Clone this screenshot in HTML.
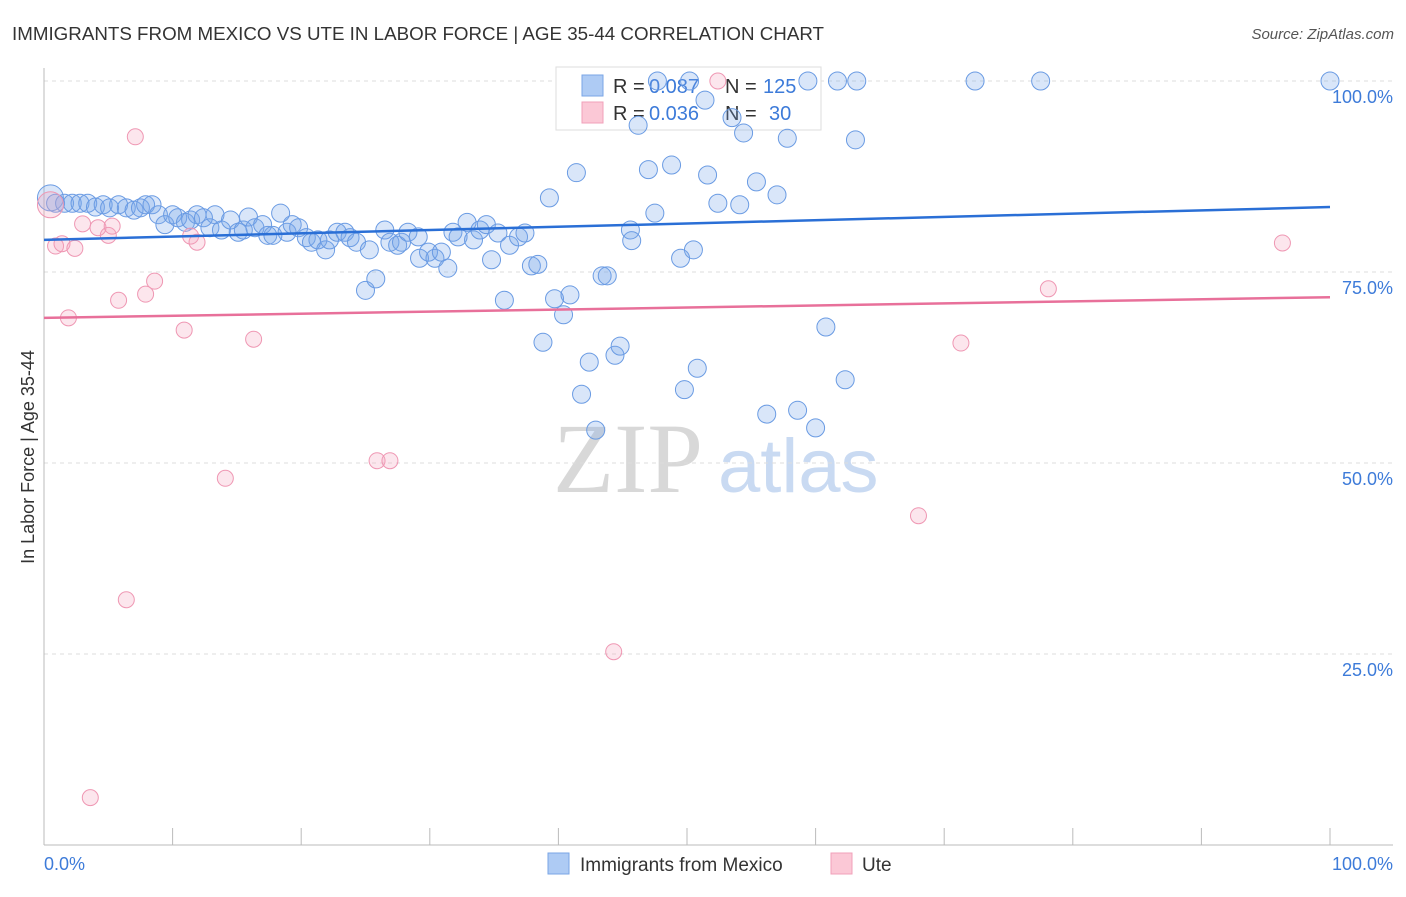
<!DOCTYPE html>
<html><head><meta charset="utf-8"><style>
body{margin:0;background:#fff;font-family:"Liberation Sans",sans-serif}
</style></head><body>
<svg id="chart" width="1406" height="892" xmlns="http://www.w3.org/2000/svg" font-family="Liberation Sans, sans-serif">
<text x="12" y="40" font-size="18" fill="#333" textLength="812" lengthAdjust="spacingAndGlyphs">IMMIGRANTS FROM MEXICO VS UTE IN LABOR FORCE | AGE 35-44 CORRELATION CHART</text>
<text x="1394" y="39" font-size="15" fill="#555" font-style="italic" text-anchor="end">Source: ZipAtlas.com</text>
<g>
<text x="553" y="492" font-size="100" style="font-family:'Liberation Serif',serif" fill="#d8d8d8">ZIP</text>
<text x="718" y="492" font-size="76" fill="#c9daf2">atlas</text>
</g>
<g id="grid"></g>
<line x1="44" y1="68" x2="44" y2="845" stroke="#bbb"/>
<line x1="44" y1="845" x2="1393" y2="845" stroke="#bbb"/>
<g id="xticks"></g>
<text x="44" y="870" font-size="18" fill="#3d7bd9">0.0%</text>
<text x="1393" y="870" font-size="18" fill="#3d7bd9" text-anchor="end">100.0%</text>
<text transform="translate(34,457) rotate(-90)" font-size="18" fill="#333" text-anchor="middle">In Labor Force | Age 35-44</text>
<g>
<rect x="556" y="67" width="265" height="63" fill="#fff" stroke="#ddd"/>
<rect x="582" y="75" width="21" height="21" fill="#aecbf4" stroke="#7aa6e6"/>
<text x="613" y="93" font-size="20" fill="#333">R =</text>
<text x="649" y="93" font-size="20" fill="#3d7bd9">0.087</text>
<text x="725" y="93" font-size="20" fill="#333">N =</text>
<text x="763" y="93" font-size="20" fill="#3d7bd9">125</text>
<rect x="582" y="102" width="21" height="21" fill="#fbc8d6" stroke="#f0a0ba"/>
<text x="613" y="120" font-size="20" fill="#333">R =</text>
<text x="649" y="120" font-size="20" fill="#3d7bd9">0.036</text>
<text x="725" y="120" font-size="20" fill="#333">N =</text>
<text x="769" y="120" font-size="20" fill="#3d7bd9">30</text>
</g>
<g id="pts"></g>
<g id="trends"></g>
<g>
<rect x="548" y="853" width="21" height="21" fill="#aecbf4" stroke="#7aa6e6"/>
<text x="580" y="871" font-size="19" fill="#333">Immigrants from Mexico</text>
<rect x="831" y="853" width="21" height="21" fill="#fbc8d6" stroke="#f0a0ba"/>
<text x="862" y="871" font-size="19" fill="#333">Ute</text>
</g>
</svg>
<script>
const yTicks=[100,75,50,25];
const yTickLabels=["100.0%","75.0%","50.0%","25.0%"];
const xTickVals=[0,10,20,30,40,50,60,70,80,90,100];
const blueX=[0.5,0.9,1.6,2.2,2.8,3.4,4.0,4.6,5.1,5.8,6.4,7.0,7.5,7.9,8.4,8.9,9.4,10.0,10.4,11.0,11.4,11.9,12.4,12.9,13.3,13.8,14.5,15.1,15.5,15.9,16.4,17.0,17.4,17.8,18.4,18.9,19.3,19.8,20.4,20.8,21.3,21.9,22.2,22.8,23.4,23.8,24.3,25.0,25.3,25.8,26.5,26.9,27.5,27.8,28.3,29.1,29.2,29.9,30.4,30.9,31.4,31.8,32.2,32.9,33.4,33.9,34.4,34.8,35.3,35.8,36.2,36.9,37.4,37.9,38.4,38.8,39.3,39.7,40.4,40.9,41.4,41.8,42.4,42.9,43.4,43.8,44.4,44.8,45.6,45.7,46.2,47.0,47.5,47.7,48.8,49.5,49.8,50.2,50.5,50.8,51.4,51.6,52.4,53.5,54.1,54.4,55.4,56.2,57.0,57.8,58.6,59.4,60.0,60.8,61.7,62.3,63.1,63.2,72.4,77.5,100];
const blueY=[84.7,84.0,84.0,84.0,84.0,84.0,83.5,83.8,83.4,83.8,83.4,83.1,83.4,83.8,83.8,82.5,81.2,82.5,82.1,81.5,81.8,82.5,82.1,80.8,82.5,80.5,81.8,80.2,80.5,82.2,80.8,81.2,79.8,79.8,82.7,80.2,81.2,80.8,79.5,78.9,79.2,77.9,79.2,80.2,80.2,79.5,78.9,72.6,77.9,74.1,80.5,78.9,78.5,78.9,80.2,79.6,76.8,77.6,76.8,77.6,75.5,80.2,79.6,81.5,79.2,80.5,81.2,76.6,80.1,71.3,78.5,79.6,80.1,75.8,76.0,65.8,84.7,71.5,69.4,72.0,88.0,59.0,63.2,54.3,74.5,74.5,64.1,65.3,80.5,79.1,94.2,88.4,82.7,100,89.0,76.8,59.6,100,77.9,62.4,97.5,87.7,84.0,95.2,83.8,93.2,86.8,56.4,85.1,92.5,56.9,100,54.6,67.8,100,60.9,92.3,100,100,100,100];
const pinkX=[0.5,0.9,1.4,1.9,2.4,3.0,3.6,4.2,5.0,5.3,5.8,6.4,7.1,7.9,8.6,10.9,11.4,11.9,14.1,16.3,25.9,26.9,44.3,52.4,68.0,71.3,78.1,96.3];
const pinkY=[83.8,78.4,78.7,69.0,78.1,81.3,6.2,80.8,79.8,81.0,71.3,32.1,92.7,72.1,73.8,67.4,79.7,78.9,48.0,66.2,50.3,50.3,25.3,100,43.1,65.7,72.8,78.8];
const blueTrend=[79.2,83.5];
const pinkTrend=[69.0,71.7];
const NS="http://www.w3.org/2000/svg";
const X0=44,X1=1330,Y0=845,Y100=81;
function sx(v){return X0+(X1-X0)*v/100;}
function sy(v){return Y0-(Y0-Y100)*v/100;}
function mk(t,a,p){const e=document.createElementNS(NS,t);for(const k in a)e.setAttribute(k,a[k]);p.appendChild(e);return e;}
const grid=document.getElementById('grid');
yTicks.forEach((v,i)=>{
  const l=mk('line',{x1:44,x2:1393,y1:sy(v),y2:sy(v),stroke:'#ddd','stroke-dasharray':'4,4'},grid);
  
  
  const t=mk('text',{x:1393,y:sy(v)+22,'font-size':18,fill:'#3d7bd9','text-anchor':'end'},grid);
  t.textContent=yTickLabels[i];
  
  
});
const xt=document.getElementById('xticks');
xTickVals.forEach(v=>{
  const l=mk('line',{x1:sx(v),x2:sx(v),y1:828,y2:845,stroke:'#bbb'},xt);
  
  
});
const pts=document.getElementById('pts');
blueX.forEach((x,i)=>{
  const c=mk('circle',{cx:sx(x),cy:sy(blueY[i]),r:i==0?13:9,fill:'rgba(120,165,235,0.28)',stroke:'#6a9be3','stroke-width':1},pts);
  
  
});
pinkX.forEach((x,i)=>{
  const c=mk('circle',{cx:sx(x),cy:sy(pinkY[i]),r:i==0?13:8,fill:'rgba(245,165,190,0.28)',stroke:'#ef97b3','stroke-width':1},pts);
  
  
});
const tr=document.getElementById('trends');
const bl=mk('line',{x1:sx(0),x2:sx(100),y1:sy(blueTrend[0]),y2:sy(blueTrend[1]),stroke:'#2a6fd6','stroke-width':2.5},tr);


const pl=mk('line',{x1:sx(0),x2:sx(100),y1:sy(pinkTrend[0]),y2:sy(pinkTrend[1]),stroke:'#e8709a','stroke-width':2.5},tr);


</script>
</body></html>
